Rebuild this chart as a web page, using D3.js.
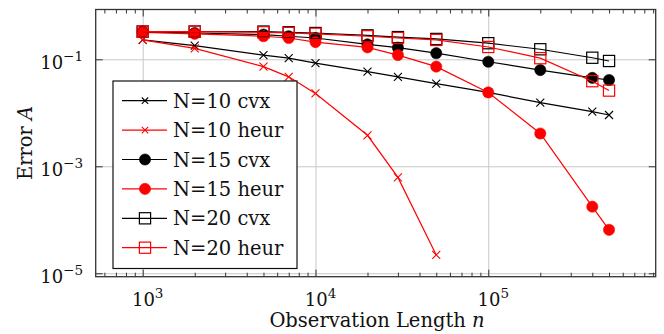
<!DOCTYPE html>
<html>
<head>
<meta charset="utf-8">
<script src="https://cdn.jsdelivr.net/npm/d3@7"></script>
<style>
  body { margin: 0; background: #fff; }
  svg { display: block; font-family: 'DejaVu Serif', serif; }
</style>
</head>
<body>
<svg id="chart" width="664" height="334"></svg>
<script>
// observation lengths
const lengths = [1000, 2000, 5000, 7000, 10000, 20000, 30000, 50000, 100000, 200000, 400000, 500000]

// error values
const n10cvx  = [0.23, 0.18, 0.12, 0.105, 0.085, 0.059, 0.047, 0.035, 0.024, 0.0155, 0.0105, 0.0091]
const n10heur = [0.23, 0.16, 0.073, 0.047, 0.023, 0.0038, 0.00062, 0.000022]
const n15cvx  = [0.33, 0.31, 0.29, 0.27, 0.25, 0.19, 0.165, 0.13, 0.09, 0.063, 0.045, 0.041]
const n15heur = [0.32, 0.30, 0.27, 0.25, 0.21, 0.167, 0.12, 0.073, 0.024, 0.0041, 0.000176, 0.000065]
const n20cvx  = [0.33, 0.33, 0.33, 0.32, 0.31, 0.28, 0.26, 0.24, 0.20, 0.154, 0.107, 0.093]
const n20heur = [0.33, 0.33, 0.32, 0.31, 0.30, 0.27, 0.25, 0.23, 0.17, 0.105, 0.039, 0.026]

const seriesNames = ['N=10 cvx', 'N=10 heur', 'N=15 cvx', 'N=15 heur', 'N=20 cvx', 'N=20 heur']
const xTickExp = [3, 4, 5]
const yTickExp = [-1, -3, -5]

const series = [
	{name: seriesNames[0], values: n10cvx,  color: '#000', mark: 'cross'},
	{name: seriesNames[1], values: n10heur, color: '#f00', mark: 'cross'},
	{name: seriesNames[2], values: n15cvx,  color: '#000', mark: 'circle'},
	{name: seriesNames[3], values: n15heur, color: '#f00', mark: 'circle'},
	{name: seriesNames[4], values: n20cvx,  color: '#000', mark: 'square'},
	{name: seriesNames[5], values: n20heur, color: '#f00', mark: 'square'}
]

const plot = {left: 95.7, right: 655.7, top: 9.5, bottom: 276.7}

const svg = d3.select('#chart')

// scales
const x = d3.scaleLog()
			.domain([Math.pow(10, 2.728), Math.pow(10, 5.969)])
			.range([plot.left, plot.right])

const y = d3.scaleLog()
			.domain([Math.pow(10, -5.064), Math.pow(10, -0.069)])
			.range([plot.bottom, plot.top])

const xMajor = xTickExp.map(e => Math.pow(10, e))
const yMajor = yTickExp.map(e => Math.pow(10, e))
const xMinor = []
for (let e = 2; e <= 5; e++) {
	for (let m = 2; m <= 9; m++) {
		const v = m * Math.pow(10, e)
		if (v > x.domain()[0] && v < x.domain()[1]) xMinor.push(v)
	}
}

const H = plot.bottom - plot.top
const W = plot.right - plot.left

// grid lines
svg.append('g')
	.attr('transform', 'translate(0,' + plot.bottom + ')')
	.call(d3.axisBottom(x).tickValues(xMajor).tickSize(-H).tickFormat(''))
	.call(g => g.select('.domain').remove())
	.call(g => g.selectAll('line').attr('stroke', '#c8c8c8').attr('stroke-width', 1))

svg.append('g')
	.attr('transform', 'translate(' + plot.left + ',0)')
	.call(d3.axisLeft(y).tickValues(yMajor).tickSize(-W).tickFormat(''))
	.call(g => g.select('.domain').remove())
	.call(g => g.selectAll('line').attr('stroke', '#c8c8c8').attr('stroke-width', 1))

// lines and markers
const line = d3.line()
			.x(d => x(d[0]))
			.y(d => y(d[1]))

function drawMark(g, type, color, cx, cy, scale) {
	const s = scale || 1
	if (type === 'cross') {
		const r = 4 * s
		g.append('path')
			.attr('d', `M${cx - r},${cy - r}L${cx + r},${cy + r}M${cx - r},${cy + r}L${cx + r},${cy - r}`)
			.attr('stroke', color).attr('stroke-width', 1.1).attr('fill', 'none')
	} else if (type === 'circle') {
		g.append('circle')
			.attr('cx', cx).attr('cy', cy).attr('r', 5.6)
			.attr('fill', color).attr('stroke', color).attr('stroke-width', 0.6)
	} else {
		const r = 5.6
		g.append('rect')
			.attr('x', cx - r).attr('y', cy - r).attr('width', 2 * r).attr('height', 2 * r)
			.attr('fill', 'none').attr('stroke', color).attr('stroke-width', 1.2)
	}
}

series.forEach(s => {
	const pts = s.values.map((v, i) => [lengths[i], v])
	const g = svg.append('g')
	g.append('path')
		.attr('d', line(pts))
		.attr('fill', 'none')
		.attr('stroke', s.color)
		.attr('stroke-width', 1.2)
	pts.forEach(p => drawMark(g, s.mark, s.color, x(p[0]), y(p[1])))
})

// axes (ticks point inward)
const axisColor = '#333'
function styleAxis(g) {
	g.select('.domain').remove()
	g.selectAll('line').attr('stroke', axisColor).attr('stroke-width', 1)
}

svg.append('g')
	.attr('transform', 'translate(0,' + plot.bottom + ')')
	.call(d3.axisBottom(x).tickValues(xMinor).tickSize(-4).tickFormat(''))
	.call(styleAxis)
svg.append('g')
	.attr('transform', 'translate(0,' + plot.bottom + ')')
	.call(d3.axisBottom(x).tickValues(xMajor).tickSize(-7).tickFormat(''))
	.call(styleAxis)
svg.append('g')
	.attr('transform', 'translate(0,' + plot.top + ')')
	.call(d3.axisTop(x).tickValues(xMinor).tickSize(-4).tickFormat(''))
	.call(styleAxis)
svg.append('g')
	.attr('transform', 'translate(0,' + plot.top + ')')
	.call(d3.axisTop(x).tickValues(xMajor).tickSize(-7).tickFormat(''))
	.call(styleAxis)
svg.append('g')
	.attr('transform', 'translate(' + plot.left + ',0)')
	.call(d3.axisLeft(y).tickValues(yMajor).tickSize(-7).tickFormat(''))
	.call(styleAxis)
svg.append('g')
	.attr('transform', 'translate(' + plot.right + ',0)')
	.call(d3.axisRight(y).tickValues(yMajor).tickSize(-7).tickFormat(''))
	.call(styleAxis)

// frame
svg.append('rect')
	.attr('x', plot.left).attr('y', plot.top)
	.attr('width', W).attr('height', H)
	.attr('fill', 'none').attr('stroke', axisColor).attr('stroke-width', 1.3)

// tick labels 10^k
function powLabel(sel, e) {
	sel.append('tspan').text('10')
	sel.append('tspan')
		.attr('dy', -8)
		.attr('font-size', 13.5)
		.text(e < 0 ? '\u2212' + (-e) : String(e))
}

xTickExp.forEach(e => {
	const t = svg.append('text')
		.attr('x', x(Math.pow(10, e)) + 5)
		.attr('y', 306)
		.attr('text-anchor', 'middle')
		.attr('font-size', 18)
		.attr('fill', '#111')
	powLabel(t, e)
})

yTickExp.forEach(e => {
	const t = svg.append('text')
		.attr('x', 83)
		.attr('y', y(Math.pow(10, e)) + 9.5)
		.attr('text-anchor', 'end')
		.attr('font-size', 18)
		.attr('fill', '#111')
	powLabel(t, e)
})

// axis titles
const xt = svg.append('text')
	.attr('x', 377)
	.attr('y', 327)
	.attr('text-anchor', 'middle')
	.attr('font-size', 19.5)
	.attr('fill', '#111')
xt.append('tspan').text('Observation Length ')
xt.append('tspan').attr('font-style', 'italic').text('n')

const yt = svg.append('text')
	.attr('transform', 'translate(32,143) rotate(-90)')
	.attr('text-anchor', 'middle')
	.attr('font-size', 19.5)
	.attr('fill', '#111')
yt.append('tspan').text('Error ')
yt.append('tspan').attr('font-style', 'italic').text('A')

// legend
const legend = svg.append('g')
legend.append('rect')
	.attr('x', 113).attr('y', 81)
	.attr('width', 184).attr('height', 187.5)
	.attr('fill', '#fff').attr('stroke', '#111').attr('stroke-width', 1.2)

series.forEach((s, i) => {
	const cy = 100.7 + i * 29.4
	const g = legend.append('g')
	g.append('line')
		.attr('x1', 122).attr('x2', 167)
		.attr('y1', cy).attr('y2', cy)
		.attr('stroke', s.color).attr('stroke-width', 1.2)
	drawMark(g, s.mark, s.color, 145, cy, 0.8)
	g.append('text')
		.attr('x', 173)
		.attr('y', cy + 7)
		.attr('font-size', 19.5)
		.attr('fill', '#111')
		.text(s.name)
})
</script>
</body>
</html>
